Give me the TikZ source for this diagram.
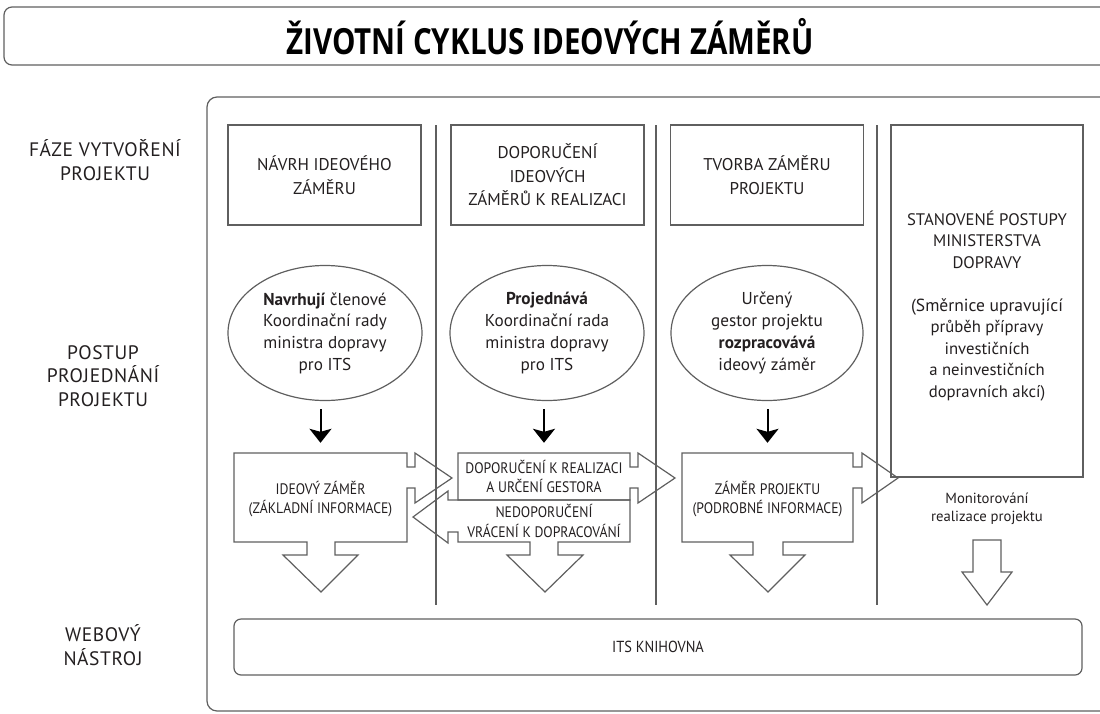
\documentclass[tikz,border=0pt]{standalone}
\usepackage{fontspec}
\setmainfont{PT Sans}
\newfontfamily\titlefont[FakeStretch=0.82]{Open Sans}
\newfontfamily\narrowfont[FakeStretch=0.9]{PT Sans}
\newfontfamily\sidefont[LetterSpace=3]{PT Sans}
\usetikzlibrary{arrows.meta,shapes.geometric}
\definecolor{linegray}{RGB}{95,95,95}
\definecolor{ink}{RGB}{35,31,32}
\begin{document}
\begin{tikzpicture}[x=1pt,y=-1pt,
  line/.style={draw=linegray,line width=1.2pt},
  hdr/.style={line, rectangle, minimum width=193pt, minimum height=100pt, align=center,
    font=\fontsize{17}{23.5}\selectfont, text=ink, inner sep=0pt},
  oval/.style={line, ellipse, minimum width=194pt, minimum height=135pt, align=center,
    font=\fontsize{17.2}{21.7}\selectfont, text=ink, inner sep=0pt},
  boxtxt/.style={align=center, font=\narrowfont\fontsize{15.2}{19.5}\selectfont, text=ink, inner sep=0pt},
  side/.style={align=center, font=\sidefont\fontsize{19.5}{23.5}\selectfont, text=ink},
  blk/.style={line, line join=miter},
  godown/.style={-{Stealth[length=14pt,width=22pt,inset=3pt]}, line width=2pt, black}
]
\useasboundingbox (0,0) rectangle (1100,713);
\clip (0,0) rectangle (1100,713);

% title bar
\draw[line, rounded corners=8pt] (4,7) rectangle (1115,65);
\node[font=\titlefont\bfseries\fontsize{36}{40}\selectfont, text=black] (title) at (550,37)
  {ŽIVOTNÍ CYKLUS IDEOVÝCH ZÁMĚRŮ};

% outer frame
\draw[line, rounded corners=10pt] (207,97) rectangle (1120,711);

% row labels
\node[side] (lab1) at (105,160) {FÁZE VYTVOŘENÍ\\PROJEKTU};
\node[side] (lab2) at (103,376) {POSTUP\\PROJEDNÁNÍ\\PROJEKTU};
\node[side] (lab3) at (103,645) {WEBOVÝ\\NÁSTROJ};

% column separators
\foreach \x in {436,656,877} \draw[line] (\x,125) -- (\x,605);

% phase headers
\node[hdr] (h1) at (324.5,175) {NÁVRH IDEOVÉHO\\ZÁMĚRU};
\node[hdr] (h2) at (547.5,175) {DOPORUČENÍ\\IDEOVÝCH\\ZÁMĚRŮ K REALIZACI};
\node[hdr] (h3) at (767,175) {TVORBA ZÁMĚRU\\PROJEKTU};
\node[hdr, minimum width=192pt, minimum height=352pt] (h4) at (987,301) {};
\node[align=center, font=\fontsize{16.7}{21.5}\selectfont, text=ink] (t4) at (987,306)
  {STANOVENÉ POSTUPY\\MINISTERSTVA\\DOPRAVY\\[21.5pt]\fontsize{17.5}{21.5}\selectfont(Směrnice upravující\\průběh přípravy\\investičních\\a neinvestičních\\dopravních akcí)};

% who handles each phase
\node[oval] (e1) at (325,333) {\textbf{Navrhují} členové\\Koordinační rady\\ministra dopravy\\pro ITS};
\node[oval] (e2) at (547,333) {\textbf{Projednává}\\Koordinační rada\\ministra dopravy\\pro ITS};
\node[oval, minimum width=192pt] (e3) at (767,333) {Určený\\gestor projektu\\\textbf{rozpracovává}\\ideový záměr};

% block arrows: box 1 (right + down)
\draw[blk] (234,453) -- (407,453) -- (407,467) -- (415,467) -- (415,453) -- (452,478)
  -- (415,503) -- (415,488) -- (407,488) -- (407,542) -- (335,542) -- (335,555)
  -- (358,555) -- (321,592) -- (283,555) -- (307,555) -- (307,542) -- (234,542) -- cycle;
% box 2 upper (right)
\draw[blk] (458,453) -- (630,453) -- (630,467) -- (638,467) -- (638,453) -- (675,478)
  -- (638,503) -- (638,488) -- (630,488) -- (630,500) -- (458,500) -- cycle;
% box 2 lower (left + down)
\draw[blk] (458,532) -- (448,532) -- (448,543) -- (413,517) -- (448,491) -- (448,500)
  -- (630,500) -- (630,542) -- (558,542) -- (558,555) -- (583,555) -- (545,592)
  -- (507,555) -- (530,555) -- (530,542) -- (458,542) -- cycle;
% box 3 (right + down)
\draw[blk] (682,453) -- (853,453) -- (853,467) -- (862,467) -- (862,453) -- (898,478)
  -- (862,503) -- (862,488) -- (853,488) -- (853,542) -- (783,542) -- (783,555)
  -- (805,555) -- (768,592) -- (730,555) -- (753,555) -- (753,542) -- (682,542) -- cycle;
% monitoring arrow
\draw[blk] (973,540) -- (1001,540) -- (1001,572) -- (1012,572) -- (987,605)
  -- (962,572) -- (973,572) -- cycle;

% texts of the block arrows
\node[boxtxt, minimum width=173pt, minimum height=89pt] (b1) at (320.5,499)
  {IDEOVÝ ZÁMĚR\\(ZÁKLADNÍ INFORMACE)};
\node[boxtxt, minimum width=172pt, minimum height=47pt] (b2) at (544,476.5)
  {DOPORUČENÍ K REALIZACI\\A URČENÍ GESTORA};
\node[boxtxt, minimum width=172pt, minimum height=42pt] (b2n) at (544,521)
  {NEDOPORUČENÍ\\VRÁCENÍ K DOPRACOVÁNÍ};
\node[boxtxt, minimum width=171pt, minimum height=89pt] (b3) at (767.5,499)
  {ZÁMĚR PROJEKTU\\(PODROBNÉ INFORMACE)};
\node[align=center, font=\fontsize{14.7}{18.5}\selectfont, text=ink] (mon) at (987,509)
  {Monitorování\\realizace projektu};

% black arrows
\draw[godown, shorten <=8pt, shorten >=10pt] (e1.south -| b1.north) -- ([yshift=1.5pt]b1.north);
\draw[godown, shorten <=8pt, shorten >=10pt] (e2.south -| b2.north) -- (b2.north);
\draw[godown, shorten <=8pt, shorten >=10pt] (e3.south -| b3.north) -- ([yshift=1.5pt]b3.north);

% library
\node[line, rounded corners=7pt, minimum width=848pt, minimum height=56pt,
  font=\narrowfont\fontsize{16}{18}\selectfont, text=ink] (its) at (658,647) {ITS KNIHOVNA};
\end{tikzpicture}
\end{document}
